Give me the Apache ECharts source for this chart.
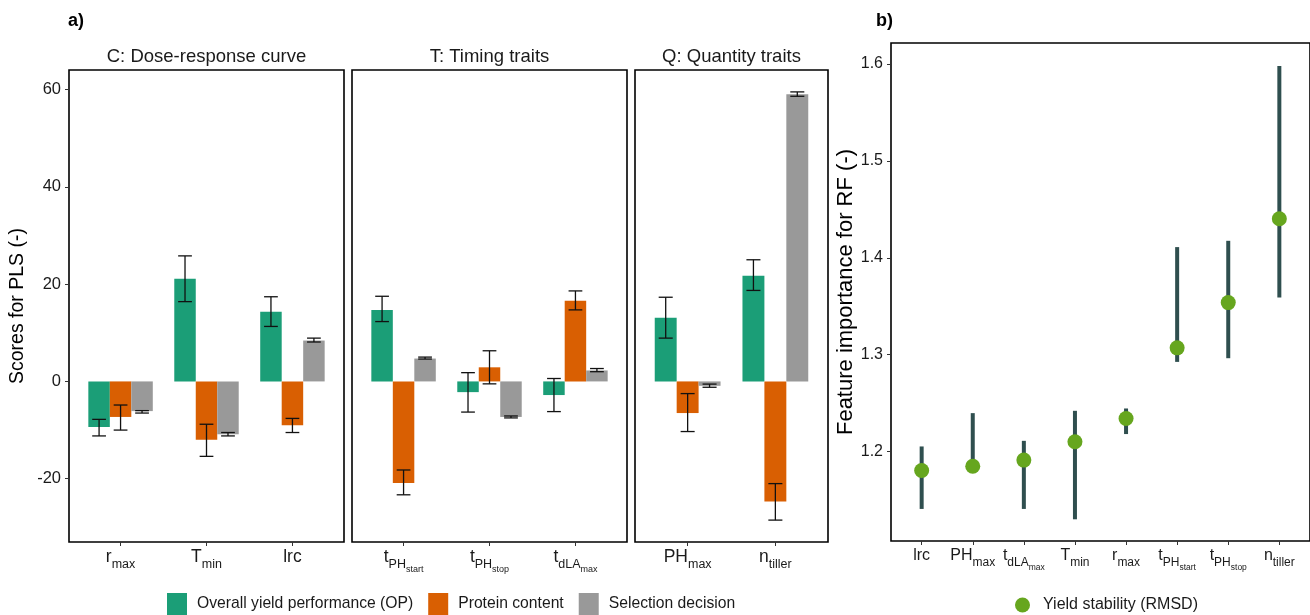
<!DOCTYPE html>
<html>
<head>
<meta charset="utf-8">
<script src="https://cdn.jsdelivr.net/npm/echarts@6/dist/echarts.min.js"></script>
<style>
  html, body { margin: 0; padding: 0; background: #fff; }
  #chart { width: 1310px; height: 615px; }
</style>
</head>
<body>
<div id="chart"></div>
<script>
// panel a: PLS scores per trait (order as in the facets)
const traitsA = ['rmax', 'Tmin', 'lrc', 'tPHstart', 'tPHstop', 'tdLAmax', 'PHmax', 'ntiller'];
const opScore = [-9.35, 21.1, 14.3, 14.7, -2.2, -2.8, 13.1, 21.7];
const opLow = [-11.2, 16.4, 11.3, 12.3, -6.3, -6.2, 8.9, 18.7];
const opHigh = [-7.8, 25.8, 17.4, 17.5, 1.8, 0.6, 17.3, 25.0];
const protScore = [-7.3, -12.0, -9.0, -20.9, 2.9, 16.6, -6.5, -24.7];
const protLow = [-10.0, -15.4, -10.5, -23.3, -0.5, 14.7, -10.3, -28.5];
const protHigh = [-4.85, -8.8, -7.6, -18.2, 6.3, 18.6, -2.5, -21.0];
const selScore = [-6.1, -10.85, 8.4, 4.7, -7.3, 2.25, -0.9, 59.0];
const selLow = [-6.5, -11.2, 8.1, 4.6, -7.5, 2.0, -1.2, 58.6];
const selHigh = [-6.0, -10.5, 8.9, 5.0, -7.1, 2.65, -0.55, 59.5];
const ticksA = [-20, 0, 20, 40, 60];

// panel b: RF feature importance
const traitsB = ['lrc', 'PHmax', 'tdLAmax', 'Tmin', 'rmax', 'tPHstart', 'tPHstop', 'ntiller'];
const rfMean = [1.1804, 1.1848, 1.1911, 1.210, 1.234, 1.307, 1.3537, 1.4402];
const rfLow = [1.1407, 1.178, 1.1407, 1.130, 1.218, 1.2925, 1.2963, 1.3589];
const rfHigh = [1.2052, 1.2396, 1.211, 1.242, 1.2444, 1.411, 1.4175, 1.598];
const ticksB = [1.2, 1.3, 1.4, 1.5, 1.6];

const labelText = {
  rmax: '{m|r}{s|max}',
  Tmin: '{m|T}{s|min}',
  lrc: '{m|lrc}',
  tPHstart: '{m|t}{s|PH}{ss|start}',
  tPHstop: '{m|t}{s|PH}{ss|stop}',
  tdLAmax: '{m|t}{s|dLA}{ss|max}',
  PHmax: '{m|PH}{s|max}',
  ntiller: '{m|n}{s|tiller}'
};

const FONT = 'Liberation Sans, Arial, sans-serif';
const INK = '#1a1a1a';

function richFor(main, sub, subsub) {
  return {
    m: { fontSize: main, lineHeight: main + 2, verticalAlign: 'top', fontFamily: FONT, color: INK },
    s: { fontSize: sub, lineHeight: sub, padding: [Math.round(main * 0.55), 0, 0, 0], verticalAlign: 'top', fontFamily: FONT, color: INK },
    ss: { fontSize: subsub, lineHeight: subsub, padding: [Math.round(main * 0.55 + sub * 0.55), 0, 0, 0], verticalAlign: 'top', fontFamily: FONT, color: INK }
  };
}
const richA = richFor(17.5, 12.5, 9);
const richB = richFor(16, 12, 8.5);

const groups = [
  { name: 'Overall yield performance (OP)', color: '#1B9E77', offset: -0.25, v: opScore, lo: opLow, hi: opHigh },
  { name: 'Protein content', color: '#D95F02', offset: 0, v: protScore, lo: protLow, hi: protHigh },
  { name: 'Selection decision', color: '#999999', offset: 0.25, v: selScore, lo: selLow, hi: selHigh }
];

const facets = [
  { title: 'C: Dose-response curve', from: 0, to: 3, left: 69, width: 275 },
  { title: 'T: Timing traits', from: 3, to: 6, left: 352, width: 275 },
  { title: 'Q: Quantity traits', from: 6, to: 8, left: 635, width: 193 }
];

const BAR_W = 0.25;
const CAP_W = 0.16;

function barRender(offset, color) {
  return function (params, api) {
    const x = api.value(0) + offset;
    const p0 = api.coord([x - BAR_W / 2, 0]);
    const p1 = api.coord([x + BAR_W / 2, api.value(1)]);
    const lo = api.coord([x - CAP_W / 2, api.value(2)]);
    const hi = api.coord([x + CAP_W / 2, api.value(3)]);
    const cx = (lo[0] + hi[0]) / 2;
    const line = { stroke: '#111', lineWidth: 1.3 };
    return {
      type: 'group',
      children: [
        { type: 'rect', shape: { x: p0[0], y: Math.min(p0[1], p1[1]), width: p1[0] - p0[0], height: Math.abs(p1[1] - p0[1]) }, style: { fill: color } },
        { type: 'line', shape: { x1: cx, y1: lo[1], x2: cx, y2: hi[1] }, style: line },
        { type: 'line', shape: { x1: lo[0], y1: lo[1], x2: hi[0], y2: lo[1] }, style: line },
        { type: 'line', shape: { x1: lo[0], y1: hi[1], x2: hi[0], y2: hi[1] }, style: line }
      ]
    };
  };
}

const grid = [];
const xAxis = [];
const yAxis = [];
const series = [];
const graphic = [];

facets.forEach((f, fi) => {
  const n = f.to - f.from;
  const idx = [];
  for (let i = 0; i < n; i++) idx.push(i);
  grid.push({ left: f.left, top: 70, width: f.width, height: 472, show: true, borderColor: '#000', borderWidth: 1.6 });
  xAxis.push({
    gridIndex: fi, type: 'value', min: -0.6, max: n - 0.4,
    axisLine: { show: false, onZero: false }, splitLine: { show: false },
    axisTick: { show: true, customValues: idx, length: 4, lineStyle: { color: '#333' } },
    axisLabel: {
      customValues: idx, margin: 6, rich: richA,
      formatter: (v) => labelText[traitsA[f.from + Math.round(v)]]
    }
  });
  yAxis.push({
    gridIndex: fi, type: 'value', min: -33, max: 64,
    show: fi === 0,
    name: fi === 0 ? 'Scores for PLS (-)' : '',
    nameLocation: 'middle', nameGap: 41,
    nameTextStyle: { fontSize: 19.5, fontFamily: FONT, color: '#000' },
    axisLine: { show: false, onZero: false }, splitLine: { show: false },
    axisTick: { show: true, customValues: ticksA, length: 4, lineStyle: { color: '#333' } },
    axisLabel: { customValues: ticksA, fontSize: 16.5, fontFamily: FONT, color: INK, margin: 8 }
  });
  groups.forEach((g) => {
    const data = [];
    for (let i = f.from; i < f.to; i++) data.push([i - f.from, g.v[i], g.lo[i], g.hi[i]]);
    series.push({
      type: 'custom', name: g.name, xAxisIndex: fi, yAxisIndex: fi,
      itemStyle: { color: g.color },
      renderItem: barRender(g.offset, g.color),
      encode: { x: 0, y: [1, 2, 3] },
      data: data
    });
  });
  graphic.push({
    type: 'text', x: f.left + f.width / 2, y: 57,
    style: { text: f.title, fontSize: 18.5, fontFamily: FONT, fill: INK, textAlign: 'center', textVerticalAlign: 'middle' }
  });
});

// panel b
const bIdx = traitsB.map((t, i) => i);
grid.push({ left: 891, top: 43, width: 472, height: 498, show: true, borderColor: '#000', borderWidth: 1.6 });
xAxis.push({
  gridIndex: 3, type: 'value', min: -0.6, max: traitsB.length - 0.4,
  axisLine: { show: false, onZero: false }, splitLine: { show: false },
  axisTick: { show: true, customValues: bIdx, length: 4, lineStyle: { color: '#333' } },
  axisLabel: { customValues: bIdx, margin: 7, rich: richB, formatter: (v) => labelText[traitsB[Math.round(v)]] }
});
yAxis.push({
  gridIndex: 3, type: 'value', min: 1.1076, max: 1.6217,
  name: 'Feature importance for RF (-)', nameLocation: 'middle', nameGap: 34,
  nameTextStyle: { fontSize: 22, fontFamily: FONT, color: '#000' },
  axisLine: { show: false, onZero: false }, splitLine: { show: false },
  axisTick: { show: true, customValues: ticksB, length: 4, lineStyle: { color: '#333' } },
  axisLabel: { customValues: ticksB, fontSize: 16, fontFamily: FONT, color: INK, margin: 8, formatter: (v) => v.toFixed(1) }
});
series.push({
  type: 'custom', name: 'range', xAxisIndex: 3, yAxisIndex: 3,
  encode: { x: 0, y: [1, 2] },
  data: traitsB.map((t, i) => [i, rfLow[i], rfHigh[i]]),
  renderItem: function (params, api) {
    const a = api.coord([api.value(0), api.value(1)]);
    const b = api.coord([api.value(0), api.value(2)]);
    return { type: 'line', shape: { x1: a[0], y1: a[1], x2: b[0], y2: b[1] }, style: { stroke: '#2F4F4F', lineWidth: 4 } };
  }
});
series.push({
  type: 'scatter', name: 'Yield stability (RMSD)', xAxisIndex: 3, yAxisIndex: 3,
  symbolSize: 15, itemStyle: { color: '#66A61E', opacity: 1 },
  data: traitsB.map((t, i) => [i, rfMean[i]])
});

graphic.push({ type: 'text', x: 68, y: 21, style: { text: 'a)', fontSize: 18, fontWeight: 'bold', fontFamily: FONT, fill: '#000', textVerticalAlign: 'middle' } });
graphic.push({ type: 'text', x: 876, y: 21, style: { text: 'b)', fontSize: 18, fontWeight: 'bold', fontFamily: FONT, fill: '#000', textVerticalAlign: 'middle' } });

const chart = echarts.init(document.getElementById('chart'), null, { renderer: 'canvas' });
chart.setOption({
  animation: false,
  backgroundColor: '#fff',
  textStyle: { fontFamily: FONT },
  grid: grid,
  xAxis: xAxis,
  yAxis: yAxis,
  legend: [
    {
      data: groups.map((g) => g.name), left: 167, top: 593, padding: 0,
      icon: 'rect', itemWidth: 20, itemHeight: 22, itemGap: 15,
      textStyle: { fontSize: 15.7, fontFamily: FONT, color: INK, padding: [2, 0, 0, 5] },
      selectedMode: false
    },
    {
      data: ['Yield stability (RMSD)'], left: 1015, top: 597, padding: 0,
      icon: 'circle', itemWidth: 15, itemHeight: 15,
      textStyle: { fontSize: 16, fontFamily: FONT, color: INK, padding: [1, 0, 0, 8] },
      selectedMode: false
    }
  ],
  graphic: graphic,
  series: series
});
</script>
</body>
</html>
